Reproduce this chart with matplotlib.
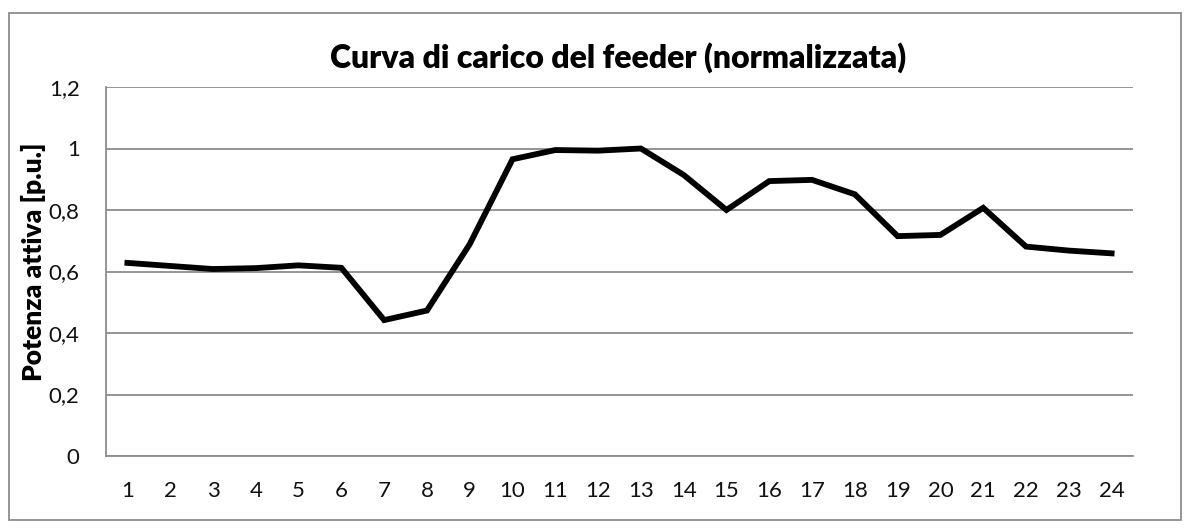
import matplotlib
matplotlib.use("Agg")
import matplotlib.pyplot as plt
from matplotlib.patches import Rectangle

# dati (ore 1..24, potenza normalizzata)
hours = list(range(1, 25))
load_pu = [0.628, 0.618, 0.608, 0.611, 0.620, 0.612, 0.442, 0.473, 0.689, 0.965,
           0.995, 0.993, 1.000, 0.914, 0.800, 0.894, 0.898, 0.851, 0.715, 0.719,
           0.807, 0.681, 0.668, 0.659]
y_ticks = [0, 0.2, 0.4, 0.6, 0.8, 1.0, 1.2]
y_tick_labels = ["0", "0,2", "0,4", "0,6", "0,8", "1", "1,2"]
title = "Curva di carico del feeder (normalizzata)"
ylabel = "Potenza attiva [p.u.]"

plt.rcParams['font.family'] = ['Lato', 'DejaVu Sans']

fig = plt.figure(figsize=(11.91, 5.28), dpi=100)
ax = fig.add_axes([106/1191, 1 - 456/528, (1133 - 106)/1191, (456 - 87)/528])

ax.plot(hours, load_pu, color="black", lw=4.2, solid_joinstyle="miter")

ax.set_xlim(0.5, 24.5)
ax.set_ylim(0, 1.2)
ax.set_xticks(hours)
ax.set_xticklabels([str(h) for h in hours])
ax.set_yticks(y_ticks)
ax.set_yticklabels(y_tick_labels)
ax.tick_params(axis="both", length=0, labelsize=16, colors="#111111")
ax.tick_params(axis="x", pad=18)
ax.tick_params(axis="y", pad=19)

ax.grid(axis="y", color="#8c8c8c", lw=1.3)
ax.set_axisbelow(True)
for s in ["top", "right"]:
    ax.spines[s].set_visible(False)
ax.spines["left"].set_color("#8c8c8c")
ax.spines["bottom"].set_color("#8c8c8c")
ax.spines["left"].set_linewidth(1.3)
ax.spines["bottom"].set_linewidth(1.3)

fig.text(618/1191, 1 - 58/528, title, ha="center", va="center",
         fontsize=23, fontweight="heavy")
fig.text(33/1191, 1 - 262/528, ylabel, ha="center", va="center",
         rotation=90, fontsize=19, fontweight="heavy")

# bordo esterno del grafico
fig.patches.append(Rectangle((9/1191, 1 - 520/528), (1181 - 9)/1191, (520 - 13)/528,
                             transform=fig.transFigure, fill=False,
                             edgecolor="#8c8c8c", lw=1.3))

fig.savefig("out.png", dpi=100)
